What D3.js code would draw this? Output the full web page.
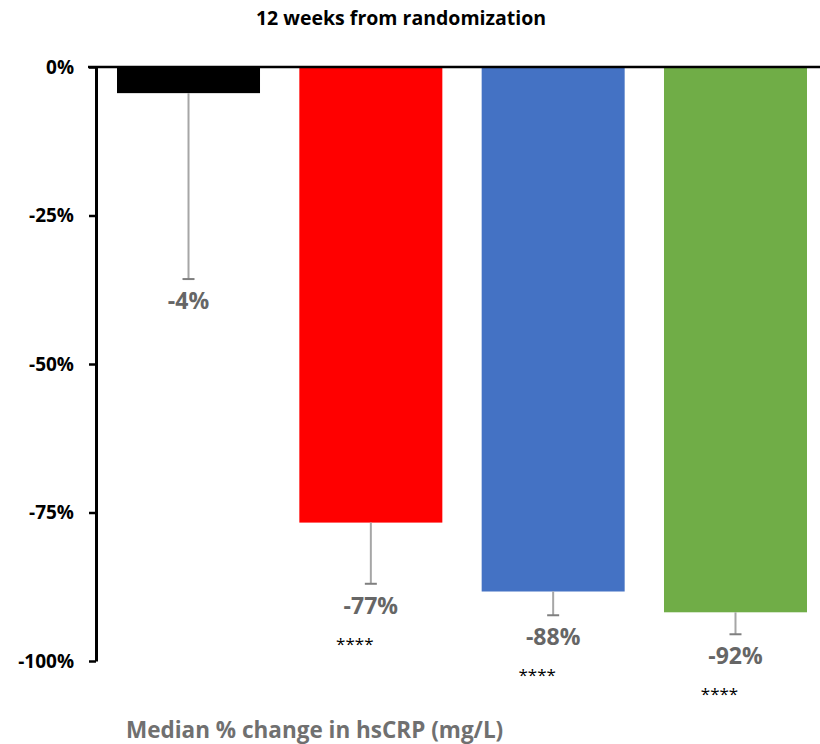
<!DOCTYPE html>
<html>
<head>
<meta charset="utf-8">
<script src="https://cdn.jsdelivr.net/npm/d3@7"></script>
<style>
  html, body { margin: 0; padding: 0; background: #fff; }
  svg { display: block; font-family: "Open Sans", Lato, sans-serif; }
</style>
</head>
<body>
<svg id="chart" width="820" height="744"></svg>
<script>
// Treatment groups and their median % change in hsCRP at 12 weeks
const groups = ["A", "B", "C", "D"];
const medians = [-4.4, -76.7, -88.3, -91.8];
const errLow = [-35.7, -87.0, -92.3, -95.5];
const valueLabels = ["-4%", "-77%", "-88%", "-92%"];
const significance = ["", "****", "****", "****"];
const barColors = ["#000000", "#FF0000", "#4472C4", "#70AD47"];
const yTicks = [0, -25, -50, -75, -100];
const yTickLabels = ["0%", "-25%", "-50%", "-75%", "-100%"];

const svg = d3.select("#chart");

const x = d3.scaleBand()
  .domain(groups)
  .range([95, 829])
  .paddingInner(0.2157)
  .paddingOuter(0.1207);

const y = d3.scaleLinear()
  .domain([-100, 0])
  .range([661, 67]);

// Bars hang down from the zero line
svg.append("g").selectAll("rect")
  .data(groups)
  .join("rect")
  .attr("x", d => x(d))
  .attr("width", x.bandwidth())
  .attr("y", y(0))
  .attr("height", (d, i) => y(medians[i]) - y(0))
  .attr("fill", (d, i) => barColors[i]);

// Lower error whiskers
const err = svg.append("g");
groups.forEach((g, i) => {
  const cx = x(g) + x.bandwidth() / 2;
  err.append("line")
    .attr("x1", cx).attr("x2", cx)
    .attr("y1", y(medians[i])).attr("y2", y(errLow[i]))
    .attr("stroke", "#a6a6a6").attr("stroke-width", 2);
  err.append("line")
    .attr("x1", cx - 6).attr("x2", cx + 6)
    .attr("y1", y(errLow[i])).attr("y2", y(errLow[i]))
    .attr("stroke", "#7f7f7f").attr("stroke-width", 2);
});

// Zero line across the top
svg.append("line")
  .attr("x1", 88).attr("x2", 820)
  .attr("y1", y(0)).attr("y2", y(0))
  .attr("stroke", "#000").attr("stroke-width", 2.5);

// Y axis
const yAxis = svg.append("g")
  .attr("transform", "translate(96,0)")
  .call(d3.axisLeft(y)
    .tickValues(yTicks)
    .tickFormat((d, i) => yTickLabels[i])
    .tickSize(7)
    .tickSizeOuter(0)
    .tickPadding(15));
yAxis.select(".domain").attr("stroke", "#000").attr("stroke-width", 3);
yAxis.selectAll(".tick line").attr("stroke", "#000").attr("stroke-width", 2.5);
yAxis.selectAll(".tick text")
  .attr("fill", "#000")
  .style("font-family", "'Open Sans', sans-serif")
  .style("font-weight", "bold")
  .style("font-size", "19px");

// Value labels and significance markers
const lab = svg.append("g");
groups.forEach((g, i) => {
  const cx = x(g) + x.bandwidth() / 2;
  const by = y(errLow[i]) + 30;
  lab.append("text")
    .attr("x", cx).attr("y", by)
    .attr("text-anchor", "middle")
    .attr("fill", "#666666")
    .style("font-weight", "bold")
    .style("font-size", "23px")
    .text(valueLabels[i]);
  if (significance[i]) {
    lab.append("text")
      .attr("x", cx - 16).attr("y", by + 36)
      .attr("text-anchor", "middle")
      .attr("fill", "#000")
      .style("font-size", "17px")
      .text(significance[i]);
  }
});

// Title
svg.append("text")
  .attr("x", 401).attr("y", 25)
  .attr("text-anchor", "middle")
  .attr("fill", "#000")
  .style("font-weight", "bold")
  .style("font-size", "19.5px")
  .text("12 weeks from randomization");

// Caption under the chart
svg.append("text")
  .attr("x", 126).attr("y", 738)
  .attr("fill", "#707070")
  .style("font-weight", "bold")
  .style("font-size", "22.5px")
  .text("Median % change in hsCRP (mg/L)");
</script>
</body>
</html>
